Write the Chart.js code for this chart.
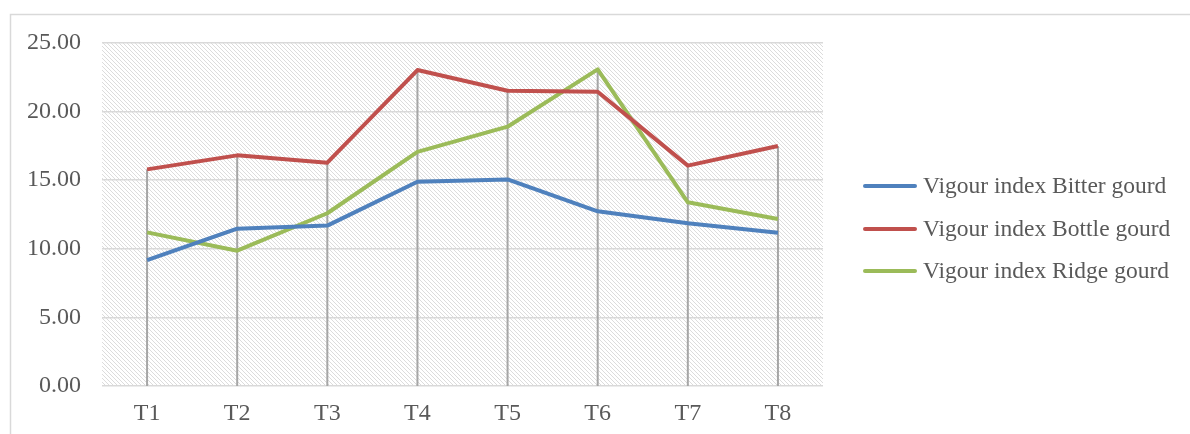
<!DOCTYPE html>
<html>
<head>
<meta charset="utf-8">
<script src="https://cdn.jsdelivr.net/npm/chart.js@4.4.1/dist/chart.umd.min.js"></script>
<style>
  html, body { margin: 0; padding: 0; background: #ffffff; }
  #wrap { width: 1190px; height: 434px; position: relative; }
</style>
</head>
<body>
<div id="wrap"><canvas id="c" width="1190" height="434"></canvas></div>
<script>
const categories = ['T1', 'T2', 'T3', 'T4', 'T5', 'T6', 'T7', 'T8'];
const bitterGourd = [9.18, 11.47, 11.69, 14.89, 15.06, 12.73, 11.86, 11.17];
const bottleGourd = [15.79, 16.81, 16.28, 23.03, 21.52, 21.45, 16.06, 17.49];
const ridgeGourd  = [11.20, 9.86, 12.59, 17.06, 18.90, 23.08, 13.39, 12.17];
const seriesNames = ['Vigour index Bitter gourd', 'Vigour index Bottle gourd', 'Vigour index Ridge gourd'];
const seriesColors = ['#4F81BD', '#C0504D', '#9BBB59'];
const yTicks = [0, 5, 10, 15, 20, 25];

const FONT = "'Liberation Serif', 'Times New Roman', serif";
const TEXT = '#595959';

function makePattern(ctx) {
  const t = document.createElement('canvas');
  t.width = 4; t.height = 4;
  const g = t.getContext('2d');
  g.fillStyle = '#ffffff';
  g.fillRect(0, 0, 4, 4);
  g.strokeStyle = '#dcdcdc';
  g.lineWidth = 1;
  g.beginPath();
  g.moveTo(-1, -1); g.lineTo(5, 5);
  g.moveTo(-1, 3); g.lineTo(1, 5);
  g.moveTo(3, -1); g.lineTo(5, 1);
  g.stroke();
  return ctx.createPattern(t, 'repeat');
}

const framePlugin = {
  id: 'frame',
  beforeDraw(chart) {
    const { ctx, chartArea: a } = chart;
    ctx.save();
    ctx.fillStyle = '#ffffff';
    ctx.fillRect(0, 0, chart.width, chart.height);
    ctx.strokeStyle = '#d9d9d9';
    ctx.lineWidth = 1.5;
    ctx.beginPath();
    ctx.moveTo(10.5, chart.height + 5);
    ctx.lineTo(10.5, 14.5);
    ctx.lineTo(chart.width + 5, 14.5);
    ctx.stroke();
    ctx.fillStyle = makePattern(ctx);
    ctx.fillRect(a.left, a.top, a.right - a.left, a.bottom - a.top);
    ctx.restore();
  }
};

const dropLinePlugin = {
  id: 'dropLines',
  beforeDatasetsDraw(chart) {
    const { ctx, scales } = chart;
    const x = scales.x, y = scales.y;
    ctx.save();
    ctx.strokeStyle = '#a6a6a6';
    ctx.lineWidth = 2;
    categories.forEach((c, i) => {
      const maxV = Math.max(...chart.data.datasets.map(d => d.data[i]));
      const px = x.getPixelForValue(i);
      ctx.beginPath();
      ctx.moveTo(px, y.getPixelForValue(maxV));
      ctx.lineTo(px, y.getPixelForValue(0));
      ctx.stroke();
    });
    ctx.restore();
  }
};

const legendPlugin = {
  id: 'customLegend',
  afterDraw(chart) {
    const { ctx, chartArea: a } = chart;
    const x0 = a.right + 40;
    const lineLen = 54;
    const rows = [186, 229, 271];
    ctx.save();
    ctx.font = '23.5px ' + FONT;
    ctx.textBaseline = 'middle';
    ctx.textAlign = 'left';
    chart.data.datasets.forEach((d, i) => {
      const yy = rows[i];
      ctx.strokeStyle = d.borderColor;
      ctx.lineWidth = 4;
      ctx.lineCap = 'round';
      ctx.beginPath();
      ctx.moveTo(x0 + 2, yy);
      ctx.lineTo(x0 + lineLen - 2, yy);
      ctx.stroke();
      ctx.fillStyle = TEXT;
      ctx.fillText(d.label, x0 + lineLen + 6, yy + 1);
    });
    ctx.restore();
  }
};

new Chart(document.getElementById('c'), {
  type: 'line',
  data: {
    labels: categories,
    datasets: [bitterGourd, bottleGourd, ridgeGourd].map((arr, i) => ({
      label: seriesNames[i],
      data: arr,
      borderColor: seriesColors[i],
      backgroundColor: seriesColors[i],
      borderWidth: 4,
      pointRadius: 0,
      tension: 0,
      fill: false,
      borderJoinStyle: 'round',
      borderCapStyle: 'butt'
    }))
  },
  options: {
    responsive: false,
    animation: false,
    devicePixelRatio: 1,
    layout: { padding: { top: 43, right: 367, left: 0, bottom: 0 } },
    plugins: { legend: { display: false }, tooltip: { enabled: false } },
    scales: {
      x: {
        offset: true,
        grid: { display: false, drawTicks: false },
        border: { display: false },
        ticks: { color: TEXT, font: { family: FONT, size: 24 }, padding: 13 },
        afterFit(s) { s.height = 48; }
      },
      y: {
        min: 0, max: 25,
        afterBuildTicks(s) { s.ticks = yTicks.map(v => ({ value: v })); },
        grid: { color: '#d9d9d9', lineWidth: 1.5, drawTicks: false },
        border: { display: false },
        ticks: {
          color: TEXT,
          font: { family: FONT, size: 24 },
          padding: 21,
          callback: v => Number(v).toFixed(2)
        },
        afterFit(s) { s.width = 102; }
      }
    }
  },
  plugins: [framePlugin, dropLinePlugin, legendPlugin]
});
</script>
</body>
</html>
